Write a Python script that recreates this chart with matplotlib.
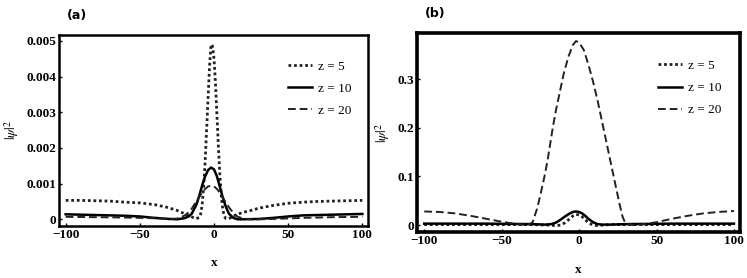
import matplotlib.pyplot as plt

plt.rcParams["font.family"] = ["Liberation Serif", "DejaVu Serif"]
plt.rcParams["mathtext.fontset"] = "stix"

# panel (a), |psi|^2 in units of 1e-3
xa_dot = [-100, -90, -80, -70, -60, -50, -40, -32, -25, -20, -17, -14, -12, -10, -9, -8, -7, -6, -5,
          -4, -3, -2, -1, 0, 1, 2, 3, 4, 5, 6, 7, 8, 10, 12, 15, 20, 26, 30, 40, 50, 60, 70, 80, 90, 100]
ya_dot = [0.53, 0.53, 0.52, 0.51, 0.48, 0.46, 0.41, 0.34, 0.25, 0.16, 0.10, 0.05, 0.02, 0.05, 0.15, 0.4, 0.9,
          1.6, 2.5, 3.4, 4.3, 4.9, 4.85, 4.5, 3.8, 2.9, 2.0, 1.2, 0.6, 0.25, 0.08, 0.02, 0.02, 0.06, 0.13,
          0.2, 0.26, 0.31, 0.39, 0.45, 0.48, 0.5, 0.51, 0.52, 0.53]
xa_sol = [-100, -80, -60, -50, -40, -30, -25, -20, -17, -15, -12, -10, -8, -6, -4, -2, 0, 2, 4, 6, 8,
          10, 13, 16, 20, 30, 40, 50, 60, 80, 100]
ya_sol = [0.14, 0.12, 0.1, 0.08, 0.04, 0.01, 0.0, 0.03, 0.08, 0.16, 0.4, 0.65, 0.95, 1.2, 1.38, 1.45,
          1.4, 1.2, 0.9, 0.6, 0.35, 0.16, 0.04, 0.0, 0.0, 0.01, 0.04, 0.08, 0.11, 0.13, 0.15]
xa_das = [-100, -80, -60, -40, -30, -25, -20, -17, -15, -12, -10, -8, -6, -4, -2, 0, 2, 4, 6, 8, 10,
          13, 16, 20, 25, 30, 40, 60, 80, 100]
ya_das = [0.07, 0.06, 0.05, 0.03, 0.01, 0.02, 0.1, 0.2, 0.3, 0.5, 0.62, 0.75, 0.85, 0.92, 0.94, 0.92,
          0.85, 0.74, 0.6, 0.47, 0.34, 0.18, 0.07, 0.02, 0.0, 0.0, 0.01, 0.04, 0.06, 0.07]

# panel (b)
xb_dot = [-100, -60, -30, -20, -15, -12, -9, -6, -4, -2, 0, 2, 4, 6, 9, 12, 15, 20, 30, 60, 100]
yb_dot = [0.001, 0.001, 0.001, 0.0, -0.001, 0.0, 0.005, 0.013, 0.019, 0.022, 0.021, 0.017, 0.011, 0.005,
          0.0, -0.001, 0.0, 0.001, 0.001, 0.001, 0.001]
xb_sol = [-100, -60, -30, -22, -18, -15, -12, -9, -6, -4, -2, 0, 2, 4, 6, 9, 12, 15, 20, 30, 60, 100]
yb_sol = [0.003, 0.003, 0.002, 0.001, 0.002, 0.005, 0.011, 0.018, 0.024, 0.027, 0.028, 0.027, 0.024,
          0.019, 0.013, 0.006, 0.002, 0.001, 0.001, 0.002, 0.003, 0.003]
xb_das = [-100, -90, -80, -70, -60, -50, -40, -33, -30, -27, -25, -22, -20, -17, -15, -12, -10, -7, -4,
          -2, 0, 3, 6, 9, 12, 15, 18, 21, 24, 26, 28, 30, 35, 40, 50, 60, 70, 80, 90, 100]
yb_das = [0.028, 0.027, 0.024, 0.019, 0.013, 0.007, 0.002, 0.0, 0.006, 0.035, 0.062, 0.105, 0.14, 0.2,
          0.235, 0.28, 0.31, 0.345, 0.37, 0.378, 0.375, 0.36, 0.33, 0.295, 0.255, 0.21, 0.165, 0.12,
          0.075, 0.045, 0.018, 0.003, 0.0, 0.001, 0.006, 0.013, 0.019, 0.024, 0.027, 0.029]

labels = ["z = 5", "z = 10", "z = 20"]

fig = plt.figure(figsize=(7.47, 2.78), dpi=100)
ax1 = fig.add_axes([0.0794, 0.188, 0.4136, 0.687])
ax2 = fig.add_axes([0.5586, 0.164, 0.432, 0.718])

tick_font = dict(family="Liberation Serif", weight="bold", size=9.5)


def style(ax, lw):
    for s in ax.spines.values():
        s.set_linewidth(lw)
    ax.tick_params(direction="in", length=2, width=1, pad=2)
    for lab in ax.get_xticklabels() + ax.get_yticklabels():
        lab.set_fontproperties(tick_font)


ax1.plot(xa_dot, [v * 1e-3 for v in ya_dot], color="#222", lw=2, ls=(0, (1, 1)), label=labels[0])
ax1.plot(xa_sol, [v * 1e-3 for v in ya_sol], color="black", lw=1.8, label=labels[1])
ax1.plot(xa_das, [v * 1e-3 for v in ya_das], color="#222", lw=1.4, ls=(0, (4, 2)), label=labels[2])
ax1.set_xlim(-104.3, 104)
ax1.set_ylim(-0.00018, 0.00517)
ax1.set_xticks([-100, -50, 0, 50, 100])
ax1.set_xticklabels(["\u2212100", "\u221250", "0", "50", "100"])
ax1.set_yticks([0, 0.001, 0.002, 0.003, 0.004, 0.005])
ax1.set_yticklabels(["0", "0.001", "0.002", "0.003", "0.004", "0.005"])
style(ax1, 1.8)

ax2.plot(xb_dot, yb_dot, color="#222", lw=2, ls=(0, (1, 1)), label=labels[0])
ax2.plot(xb_sol, yb_sol, color="black", lw=1.8, label=labels[1])
ax2.plot(xb_das, yb_das, color="#222", lw=1.4, ls=(0, (4, 2)), label=labels[2])
ax2.set_xlim(-104.5, 103.9)
ax2.set_ylim(-0.015, 0.395)
ax2.set_xticks([-100, -50, 0, 50, 100])
ax2.set_xticklabels(["\u2212100", "\u221250", "0", "50", "100"])
ax2.set_yticks([0, 0.1, 0.2, 0.3])
ax2.set_yticklabels(["0", "0.1", "0.2", "0.3"])
style(ax2, 2.6)

for ax, x0 in [(ax1, 0.74), (ax2, 0.746)]:
    ax.legend(loc="upper left", bbox_to_anchor=(x0, 0.865), frameon=False, handlelength=1.8,
              handletextpad=0.5, labelspacing=0.75, borderpad=0, borderaxespad=0,
              prop=dict(family="Liberation Serif", size=9.5))
    ax.set_ylabel(r"$|\psi|^2$", fontsize=10, labelpad=4)
    ax.set_xlabel("x", fontsize=9.5, fontweight="bold", labelpad=12)

fig.text(0.0896, 0.945, "(a)", fontsize=9, fontweight="bold", family="DejaVu Sans", va="center")
fig.text(0.569, 0.95, "(b)", fontsize=9, fontweight="bold", family="DejaVu Sans", va="center")

fig.savefig("out.png", dpi=100)
